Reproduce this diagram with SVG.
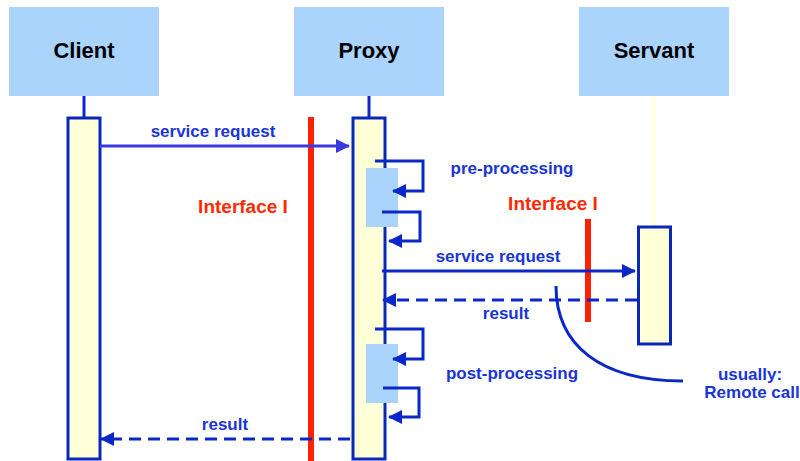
<svg xmlns="http://www.w3.org/2000/svg" width="800" height="461" viewBox="0 0 800 461">
<defs>
<style>
.box{fill:#aad4fb}
.title{font-family:"Liberation Sans",Arial,sans-serif;font-weight:bold;font-size:22px;fill:#000;text-anchor:middle}
.act{fill:#ffffd8;stroke:#0a28b8;stroke-width:3}
.lbl{font-family:"Liberation Sans",Arial,sans-serif;font-weight:bold;font-size:17px;fill:#1a35d6;text-anchor:middle}
.red{font-family:"Liberation Sans",Arial,sans-serif;font-weight:bold;font-size:19px;fill:#ff2a00;text-anchor:middle}
.msg{fill:none;stroke:#0a28c8;stroke-width:3}
.dash{stroke-dasharray:12 7}
.iface{stroke:#ff2200;stroke-width:6}
.pbox{fill:#aad4fb}
</style>
<marker id="ah" markerWidth="14" markerHeight="14" viewBox="0 0 14 14" refX="13" refY="7" orient="auto" markerUnits="userSpaceOnUse">
<path d="M0,0 L14,7 L0,14 Z" fill="#0a28c8"/>
</marker>
<marker id="ah2" markerWidth="14" markerHeight="14" viewBox="0 0 14 14" refX="13" refY="7" orient="auto" markerUnits="userSpaceOnUse">
<path d="M0,0 L14,7 L0,14 Z" fill="#3a38e0"/>
</marker>
</defs>
<rect width="800" height="461" fill="#fff"/>

<g id="client">
<rect class="box" x="9" y="7" width="150" height="89"/>
<text class="title" x="84" y="58">Client</text>
<line x1="84" y1="96" x2="84" y2="118" stroke="#0a28c8" stroke-width="3"/>
<rect class="act" x="68" y="118" width="32" height="341"/>
</g>

<g id="proxy">
<rect class="box" x="294" y="7" width="150" height="89"/>
<text class="title" x="369" y="58">Proxy</text>
<line x1="369" y1="96" x2="369" y2="118" stroke="#0a28c8" stroke-width="3"/>
<rect class="act" x="353" y="118" width="32" height="341"/>
<rect class="pbox" x="366" y="168" width="32" height="59"/>
<rect class="pbox" x="366" y="344" width="32" height="59"/>
</g>

<g id="servant">
<rect class="box" x="579" y="7" width="150" height="89"/>
<text class="title" x="654" y="58">Servant</text>
<line x1="654" y1="96" x2="654" y2="227" stroke="#ffffd8" stroke-width="3"/>
<rect class="act" x="638.5" y="227" width="32" height="117"/>
</g>

<g id="interface1">
<line class="iface" x1="311" y1="117" x2="311" y2="461"/>
<text class="red" x="243" y="213">Interface I</text>
</g>

<g id="interface2">
<line class="iface" x1="588" y1="219" x2="588" y2="322"/>
<text class="red" x="553" y="210">Interface I</text>
</g>

<g id="connectors">
<line x1="100" y1="146" x2="349" y2="146" stroke="#3a38e0" stroke-width="3" marker-end="url(#ah2)"/>
<text class="lbl" x="213" y="137">service request</text>

<polyline class="msg" points="375,161 423,161 423,191 393,191" marker-end="url(#ah)"/>
<polyline class="msg" points="382,212 420,212 420,241 389,241" marker-end="url(#ah)"/>
<text class="lbl" x="512" y="174">pre-processing</text>

<line class="msg" x1="382" y1="271" x2="635" y2="271" marker-end="url(#ah)"/>
<text class="lbl" x="498" y="262">service request</text>

<line class="msg dash" x1="637" y1="300" x2="383" y2="300" marker-end="url(#ah)"/>
<text class="lbl" x="506" y="319">result</text>

<polyline class="msg" points="375,329 423,329 423,359 393,359" marker-end="url(#ah)"/>
<polyline class="msg" points="383,388 419,388 419,417 389,417" marker-end="url(#ah)"/>
<text class="lbl" x="512" y="379">post-processing</text>

<line class="msg dash" x1="350" y1="439" x2="101" y2="439" marker-end="url(#ah)"/>
<text class="lbl" x="225" y="430">result</text>

<path class="msg" d="M556,286 C556,345 600,381 683,381" stroke-width="2.5"/>
<text class="lbl" x="750" y="380">usually:</text>
<text class="lbl" x="752" y="398">Remote call</text>
</g>
</svg>
